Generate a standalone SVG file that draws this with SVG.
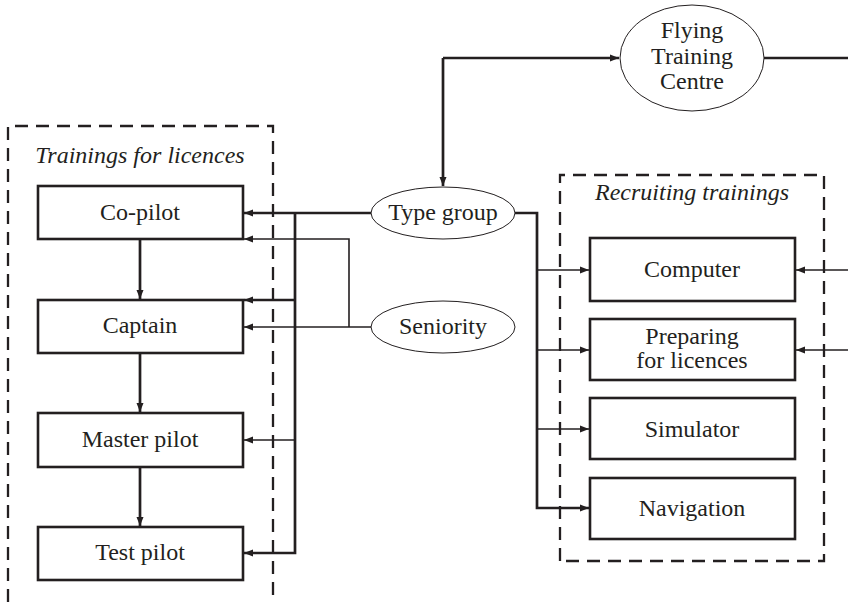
<svg xmlns="http://www.w3.org/2000/svg" width="848" height="602" viewBox="0 0 848 602">
<defs>
<marker id="ah" markerUnits="userSpaceOnUse" markerWidth="10" markerHeight="8" refX="9" refY="4" orient="auto">
<path d="M0,0.5 L9,4 L0,7.5 Z" fill="#231f20"/>
</marker>
<style>
.box{fill:#fff;stroke:#231f20;stroke-width:2.6}
.ell{fill:#fff;stroke:#231f20;stroke-width:1}
.dash{fill:none;stroke:#231f20;stroke-width:2.3;stroke-dasharray:13 8}
.t{font-family:"Liberation Serif","Times New Roman",serif;font-size:24px;fill:#231f20;text-anchor:middle}
.it{font-style:italic}
.thick{fill:none;stroke:#231f20;stroke-width:2.7}
.thin{fill:none;stroke:#231f20;stroke-width:1.6}
</style>
</defs>
<rect width="848" height="602" fill="#fff"/>
<g id="group-licences">
<path class="dash" d="M8,602 V126 H273 V602"/>
<text class="t it" x="140" y="163">Trainings for licences</text>
</g>
<g id="group-recruiting">
<path class="dash" d="M560,561 V175 H824 V561 Z"/>
<text class="t it" x="692" y="200">Recruiting trainings</text>
</g>
<g id="connectors">
<path class="thick" d="M140,239 V299" marker-end="url(#ah)"/>
<path class="thick" d="M140,353 V412" marker-end="url(#ah)"/>
<path class="thick" d="M140,467 V526" marker-end="url(#ah)"/>
<path class="thick" d="M372,213 H244" marker-end="url(#ah)"/>
<path class="thick" d="M295,213 V553 H244" marker-end="url(#ah)"/>
<path class="thick" d="M295,300 H244" marker-end="url(#ah)"/>
<path class="thin" d="M295,440 H244" marker-end="url(#ah)"/>
<path class="thin" d="M372,327 H244" marker-end="url(#ah)"/>
<path class="thin" d="M349,327 V239 H244" marker-end="url(#ah)"/>
<path class="thick" d="M443,58 H619" marker-end="url(#ah)"/>
<path class="thick" d="M443,58 V186" marker-end="url(#ah)"/>
<path class="thick" d="M764,58 H848"/>
<path class="thick" d="M515,213 H537 V508 H589" marker-end="url(#ah)"/>
<path class="thin" d="M537,270 H589" marker-end="url(#ah)"/>
<path class="thin" d="M537,350 H589" marker-end="url(#ah)"/>
<path class="thin" d="M537,429 H589" marker-end="url(#ah)"/>
<path class="thin" d="M848,270 H796" marker-end="url(#ah)"/>
<path class="thin" d="M848,350 H796" marker-end="url(#ah)"/>
</g>
<g id="copilot"><rect class="box" x="38" y="186" width="205" height="53"/><text class="t" x="140" y="220">Co-pilot</text></g>
<g id="captain"><rect class="box" x="38" y="300" width="205" height="53"/><text class="t" x="140" y="333">Captain</text></g>
<g id="master"><rect class="box" x="38" y="413" width="205" height="54"/><text class="t" x="140" y="447">Master pilot</text></g>
<g id="test"><rect class="box" x="38" y="527" width="205" height="53"/><text class="t" x="140" y="560">Test pilot</text></g>
<g id="typegroup"><ellipse class="ell" cx="443" cy="213" rx="72" ry="26"/><text class="t" x="443" y="220">Type group</text></g>
<g id="seniority"><ellipse class="ell" cx="443" cy="327" rx="72" ry="26"/><text class="t" x="443" y="334">Seniority</text></g>
<g id="ftc"><ellipse class="ell" cx="692" cy="58" rx="72" ry="53"/>
<text class="t" x="692" y="38">Flying</text><text class="t" x="692" y="64">Training</text><text class="t" x="692" y="89">Centre</text></g>
<g id="computer"><rect class="box" x="590" y="238" width="205" height="63"/><text class="t" x="692" y="277">Computer</text></g>
<g id="preparing"><rect class="box" x="590" y="319" width="205" height="61"/><text class="t" x="692" y="344">Preparing</text><text class="t" x="692" y="368">for licences</text></g>
<g id="simulator"><rect class="box" x="590" y="398" width="205" height="61"/><text class="t" x="692" y="437">Simulator</text></g>
<g id="navigation"><rect class="box" x="590" y="478" width="205" height="61"/><text class="t" x="692" y="516">Navigation</text></g>
</svg>
